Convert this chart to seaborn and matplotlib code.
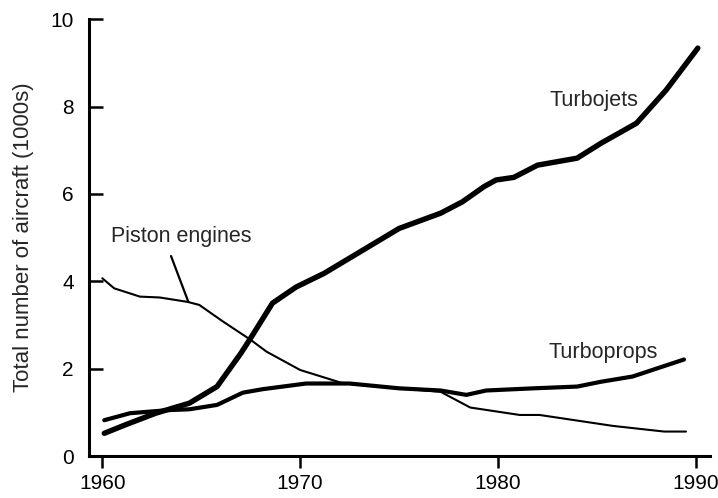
import matplotlib
matplotlib.use("Agg")
import matplotlib.pyplot as plt
import seaborn as sns

# values (year, thousands of aircraft)
jet_years = [1960.1, 1961.2, 1962.7, 1964.4, 1965.8, 1967.0, 1967.5, 1968.6, 1969.8, 1971.2,
             1972.9, 1975.0, 1977.1, 1978.2, 1979.3, 1979.9, 1980.8, 1982.0, 1984.0, 1985.2,
             1987.0, 1988.5, 1990.1]
jet_values = [0.52, 0.72, 0.98, 1.21, 1.59, 2.35, 2.70, 3.50, 3.87, 4.18,
              4.64, 5.21, 5.56, 5.82, 6.17, 6.32, 6.38, 6.66, 6.82, 7.16,
              7.62, 8.38, 9.34]

prop_years = [1960.1, 1961.4, 1963.3, 1964.4, 1965.8, 1967.1, 1968.1, 1970.3, 1972.5, 1975.0,
              1977.1, 1978.4, 1979.4, 1981.8, 1984.0, 1985.2, 1986.8, 1989.4]
prop_values = [0.82, 0.98, 1.05, 1.07, 1.17, 1.45, 1.53, 1.66, 1.66, 1.55,
               1.50, 1.40, 1.50, 1.55, 1.59, 1.70, 1.82, 2.21]

piston_years = [1960.0, 1960.6, 1961.9, 1962.9, 1964.3, 1964.9, 1966.1, 1967.5, 1968.3, 1970.0,
                1972.2, 1975.0, 1977.1, 1978.6, 1981.1, 1982.1, 1985.8, 1988.4, 1989.5]
piston_values = [4.07, 3.84, 3.65, 3.63, 3.53, 3.46, 3.08, 2.66, 2.39, 1.97,
                 1.66, 1.55, 1.47, 1.11, 0.94, 0.94, 0.69, 0.56, 0.56]

x_ticks = [1960, 1970, 1980, 1990]
y_ticks = [0, 2, 4, 6, 8, 10]

sns.set_style("ticks")
plt.rcParams['font.family'] = ['Liberation Sans', 'DejaVu Sans']

fig = plt.figure(figsize=(7.18, 4.98), dpi=100)
ax = fig.add_axes([0.124, 0.0843, 0.865, 0.877])

sns.lineplot(x=piston_years, y=piston_values, ax=ax, color='black', linewidth=1.5,
             estimator=None, sort=False, solid_capstyle='round', solid_joinstyle='round')
sns.lineplot(x=prop_years, y=prop_values, ax=ax, color='black', linewidth=3.0,
             estimator=None, sort=False, solid_capstyle='round', solid_joinstyle='round')
sns.lineplot(x=jet_years, y=jet_values, ax=ax, color='black', linewidth=3.9,
             estimator=None, sort=False, solid_capstyle='round', solid_joinstyle='round')

ax.text(1982.6, 8.02, 'Turbojets', fontsize=15.5, va='baseline', ha='left')
ax.text(1982.55, 2.24, 'Turboprops', fontsize=15.5, va='baseline', ha='left')
ax.annotate('Piston engines', xy=(1964.35, 3.53), xytext=(1960.42, 4.91),
            fontsize=15.5, va='baseline', ha='left',
            arrowprops=dict(arrowstyle='-', color='black', lw=1.6,
                            shrinkA=0, shrinkB=0, relpos=(0.43, -0.45)))

ax.set_xlim(1959.33, 1990.72)
ax.set_ylim(0, 10)
ax.set_xticks(x_ticks)
ax.set_yticks(y_ticks)
ax.set_xlabel('')
ax.set_ylabel('Total number of aircraft (1000s)', fontsize=16, labelpad=12)

sns.despine(ax=ax)
for side in ['left', 'bottom']:
    ax.spines[side].set_linewidth(2.2)
    ax.spines[side].set_color('black')
ax.tick_params(axis='y', direction='in', length=10, width=1.8, pad=11,
               labelsize=15, colors='black')
ax.tick_params(axis='x', direction='out', length=8.6, width=1.8, pad=4.5,
               labelsize=15, colors='black')

fig.savefig('out.png', dpi=100)
